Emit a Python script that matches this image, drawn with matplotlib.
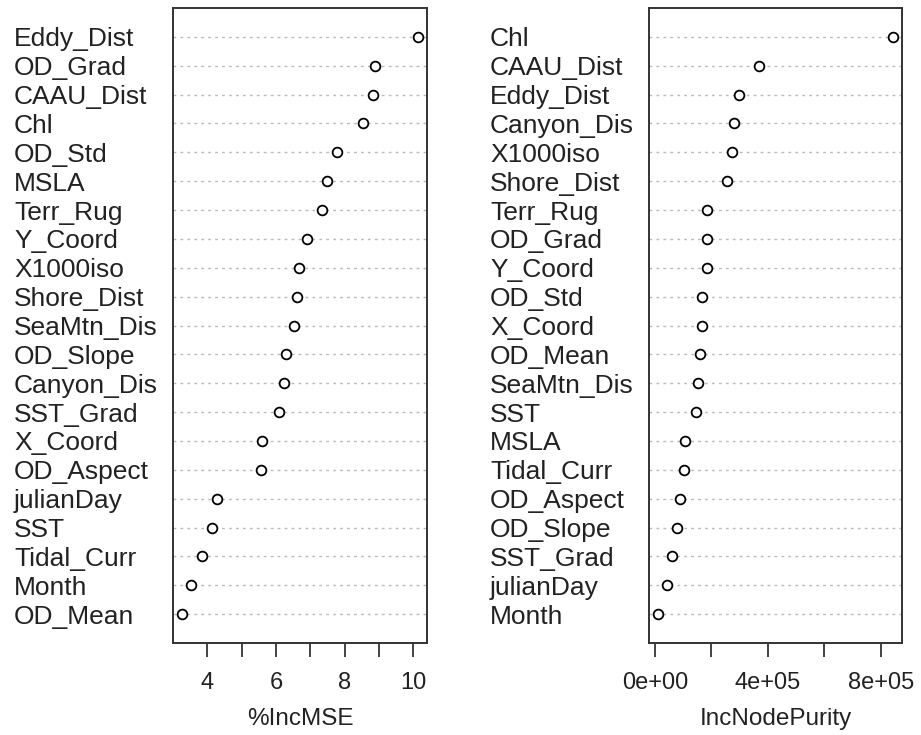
import numpy as np
import matplotlib.pyplot as plt
from matplotlib.transforms import blended_transform_factory

plt.rcParams['font.family'] = ['Liberation Sans', 'DejaVu Sans']

# variable importance, listed top to bottom as ranked
mse_vars = ['Eddy_Dist', 'OD_Grad', 'CAAU_Dist', 'Chl', 'OD_Std', 'MSLA', 'Terr_Rug',
            'Y_Coord', 'X1000iso', 'Shore_Dist', 'SeaMtn_Dis', 'OD_Slope', 'Canyon_Dis',
            'SST_Grad', 'X_Coord', 'OD_Aspect', 'julianDay', 'SST', 'Tidal_Curr',
            'Month', 'OD_Mean']
mse_vals = [10.13, 8.89, 8.84, 8.55, 7.79, 7.49, 7.34, 6.91, 6.67, 6.61, 6.52, 6.28,
            6.23, 6.08, 5.60, 5.55, 4.29, 4.13, 3.84, 3.51, 3.27]

purity_vars = ['Chl', 'CAAU_Dist', 'Eddy_Dist', 'Canyon_Dis', 'X1000iso', 'Shore_Dist',
               'Terr_Rug', 'OD_Grad', 'Y_Coord', 'OD_Std', 'X_Coord', 'OD_Mean',
               'SeaMtn_Dis', 'SST', 'MSLA', 'Tidal_Curr', 'OD_Aspect', 'OD_Slope',
               'SST_Grad', 'julianDay', 'Month']
purity_vals = [8.42e5, 3.69e5, 2.98e5, 2.79e5, 2.73e5, 2.54e5, 1.83e5, 1.83e5, 1.83e5,
               1.68e5, 1.66e5, 1.60e5, 1.54e5, 1.47e5, 1.07e5, 1.02e5, 0.90e5, 0.77e5,
               0.60e5, 0.41e5, 0.12e5]

W, H = 921, 735
fig = plt.figure(figsize=(W / 100, H / 100), dpi=100)


def dot_panel(box, names, vals, label_x, xlabel, ticks, ticklabels):
    x0, x1, y_top, y_bot = box
    ax = fig.add_axes([x0 / W, 1 - y_bot / H, (x1 - x0) / W, (y_bot - y_top) / H])
    n = len(vals)
    ys = np.arange(n, 0, -1)
    lo, hi = min(vals), max(vals)
    pad = (hi - lo) * 0.04
    ax.set_xlim(lo - pad, hi + pad)
    ax.set_ylim(0, n + 1)
    for y in ys:
        ax.axhline(y, color='#bbbbbb', lw=1.0, ls=(0, (2, 3)), zorder=1)
    ax.plot(vals, ys, 'o', ms=7, mfc='white', mec='black', mew=1.3, zorder=3)
    ax.set_yticks([])
    ax.set_xticks(ticks)
    ax.set_xticklabels(ticklabels)
    ax.tick_params(axis='x', direction='out', length=10, width=1.2, pad=11,
                   labelsize=17, colors='#222222')
    for s in ax.spines.values():
        s.set_linewidth(1.4)
        s.set_color('#333333')
    tr = blended_transform_factory(fig.transFigure, ax.transData)
    for name, y in zip(names, ys):
        ax.text(label_x / W, y, name, transform=tr, ha='left', va='center_baseline',
                fontsize=19, color='#222222')
    fig.text((x0 + x1) / 2 / W, 1 - 719 / H, xlabel, ha='center', va='center',
             fontsize=17.5, color='#222222')
    return ax


dot_panel((173, 427, 8, 643), mse_vars, mse_vals, 14, '%IncMSE',
          [4, 5, 6, 7, 8, 9, 10], ['4', '', '6', '', '8', '', '10'])
dot_panel((649, 902, 8, 643), purity_vars, purity_vals, 490, 'IncNodePurity',
          [0, 2e5, 4e5, 6e5, 8e5], ['0e+00', '', '4e+05', '', '8e+05'])

fig.savefig('out.png', dpi=100)
